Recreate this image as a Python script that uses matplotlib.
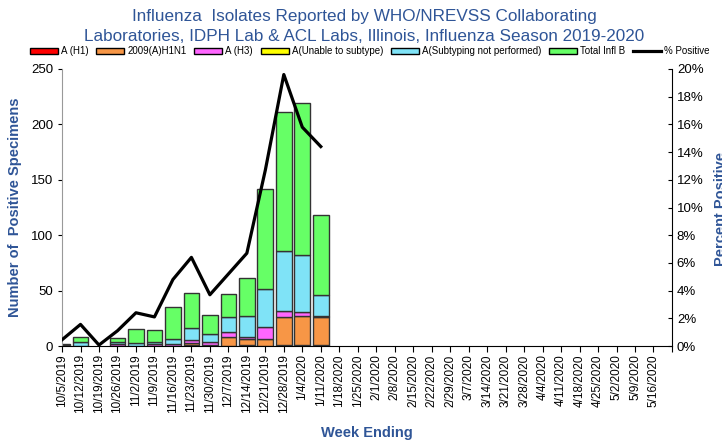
import matplotlib
matplotlib.use("Agg")
import matplotlib.pyplot as plt
import numpy as np
from matplotlib.patches import Patch
from matplotlib.lines import Line2D
from matplotlib.ticker import FuncFormatter

plt.rcParams['font.family'] = ['Liberation Sans Narrow', 'Liberation Sans', 'DejaVu Sans']

weeks = ["10/5/2019", "10/12/2019", "10/19/2019", "10/26/2019", "11/2/2019", "11/9/2019",
         "11/16/2019", "11/23/2019", "11/30/2019", "12/7/2019", "12/14/2019", "12/21/2019",
         "12/28/2019", "1/4/2020", "1/11/2020", "1/18/2020", "1/25/2020", "2/1/2020",
         "2/8/2020", "2/15/2020", "2/22/2020", "2/29/2020", "3/7/2020", "3/14/2020",
         "3/21/2020", "3/28/2020", "4/4/2020", "4/11/2020", "4/18/2020", "4/25/2020",
         "5/2/2020", "5/9/2020", "5/16/2020", ""]

a_h1 =      [0, 0, 0, 0, 0, 0, 0, 1, 0, 0, 1, 0, 1, 1, 1]
a_2009 =    [1, 0, 0, 0, 0, 0, 0, 2, 1, 8, 5, 6, 25, 26, 25]
a_h3 =      [0, 0, 0, 2, 0, 2, 2, 2, 3, 5, 2, 11, 6, 4, 1]
a_unable =  [0, 0, 0, 0, 0, 0, 0, 0, 0, 0, 0, 0, 0, 0, 0]
a_notsub =  [1, 4, 0, 2, 3, 2, 4, 11, 7, 13, 19, 34, 54, 51, 19]
infl_b =    [0, 4, 0, 3, 12, 10, 29, 32, 17, 21, 34, 91, 125, 137, 72]
pct_pos =   [0.45, 1.56, 0.07, 1.1, 2.4, 2.1, 4.8, 6.4, 3.7, 5.2, 6.7, 12.7, 19.6, 15.8, 14.4]

series_names = ["A (H1)", "2009(A)H1N1", "A (H3)", "A(Unable to subtype)",
                "A(Subtyping not performed)", "Total Infl B"]
colors = ["#FF0000", "#F79646", "#FF66FF", "#FFFF00", "#7FE3F7", "#66FF66"]

n = len(weeks)
def pad(v):
    return np.array(v + [0] * (n - len(v)), dtype=float)

data = [pad(a_h1), pad(a_2009), pad(a_h3), pad(a_unable), pad(a_notsub), pad(infl_b)]

fig = plt.figure(figsize=(7.22, 4.44), dpi=100)
ax = fig.add_axes([0.0859, 0.2207, 0.8448, 0.6239])
x = np.arange(n)
bottom = np.zeros(n)
for vals, col in zip(data, colors):
    mask = vals > 0
    ax.bar(x[mask], vals[mask], bottom=bottom[mask], width=0.85, color=col,
           edgecolor="#333333", linewidth=1.0, zorder=2)
    bottom += vals

ax.set_xlim(0, n - 1)
ax.set_ylim(0, 250)
ax.set_yticks(np.arange(0, 251, 50))
ax.set_xticks(x)
ax.set_xticklabels(weeks, rotation=90, fontsize=8.5)
ax.tick_params(axis='x', length=4, direction='out', pad=2)
ax.tick_params(axis='y', labelsize=9.5, length=3)
ax.spines['top'].set_visible(False)
ax.spines['right'].set_visible(False)
ax.spines['left'].set_color("#999999")
ax.spines['bottom'].set_color("black")
ax.set_ylabel("Number of  Positive Specimens", fontsize=10.5, fontweight='bold',
              color="#2F5597", family=['Liberation Sans', 'DejaVu Sans'], labelpad=6)
ax.set_xlabel("Week Ending", fontsize=10.5, fontweight='bold', color="#2F5597",
              family=['Liberation Sans', 'DejaVu Sans'], labelpad=9)

ax2 = ax.twinx()
ax2.plot(x[:len(pct_pos)], pct_pos, color="black", linewidth=2.3, zorder=3)
ax2.set_ylim(0, 20)
ax2.set_yticks(np.arange(0, 21, 2))
ax2.yaxis.set_major_formatter(FuncFormatter(lambda v, p: f"{int(v)}%"))
ax2.tick_params(axis='y', labelsize=9.5, length=3, direction='in')
ax2.spines['top'].set_visible(False)
ax2.spines['left'].set_visible(False)
ax2.spines['bottom'].set_visible(False)
fig.text(0.998, 0.53, "Percent Positive", rotation=90, ha='center', va='center',
         fontsize=10.5, fontweight='bold', color="#2F5597",
         family=['Liberation Sans', 'DejaVu Sans'])

fig.text(0.505, 0.962, "Influenza  Isolates Reported by WHO/NREVSS Collaborating",
         ha='center', va='center', fontsize=12.3, color="#2F5597")
fig.text(0.505, 0.918, "Laboratories, IDPH Lab & ACL Labs, Illinois, Influenza Season 2019-2020",
         ha='center', va='center', fontsize=12.3, color="#2F5597")

handles = [Patch(facecolor=c, edgecolor="black", linewidth=1.0) for c in colors]
handles.append(Line2D([0], [0], color="black", linewidth=2.3))
labels = series_names + ["% Positive"]
fig.legend(handles, labels, loc='center', bbox_to_anchor=(0.512, 0.885), ncol=7,
           frameon=False, fontsize=7.0, handlelength=2.9, handleheight=0.55,
           handletextpad=0.3, columnspacing=0.8, borderaxespad=0, borderpad=0)

fig.savefig("out.png", dpi=100)
